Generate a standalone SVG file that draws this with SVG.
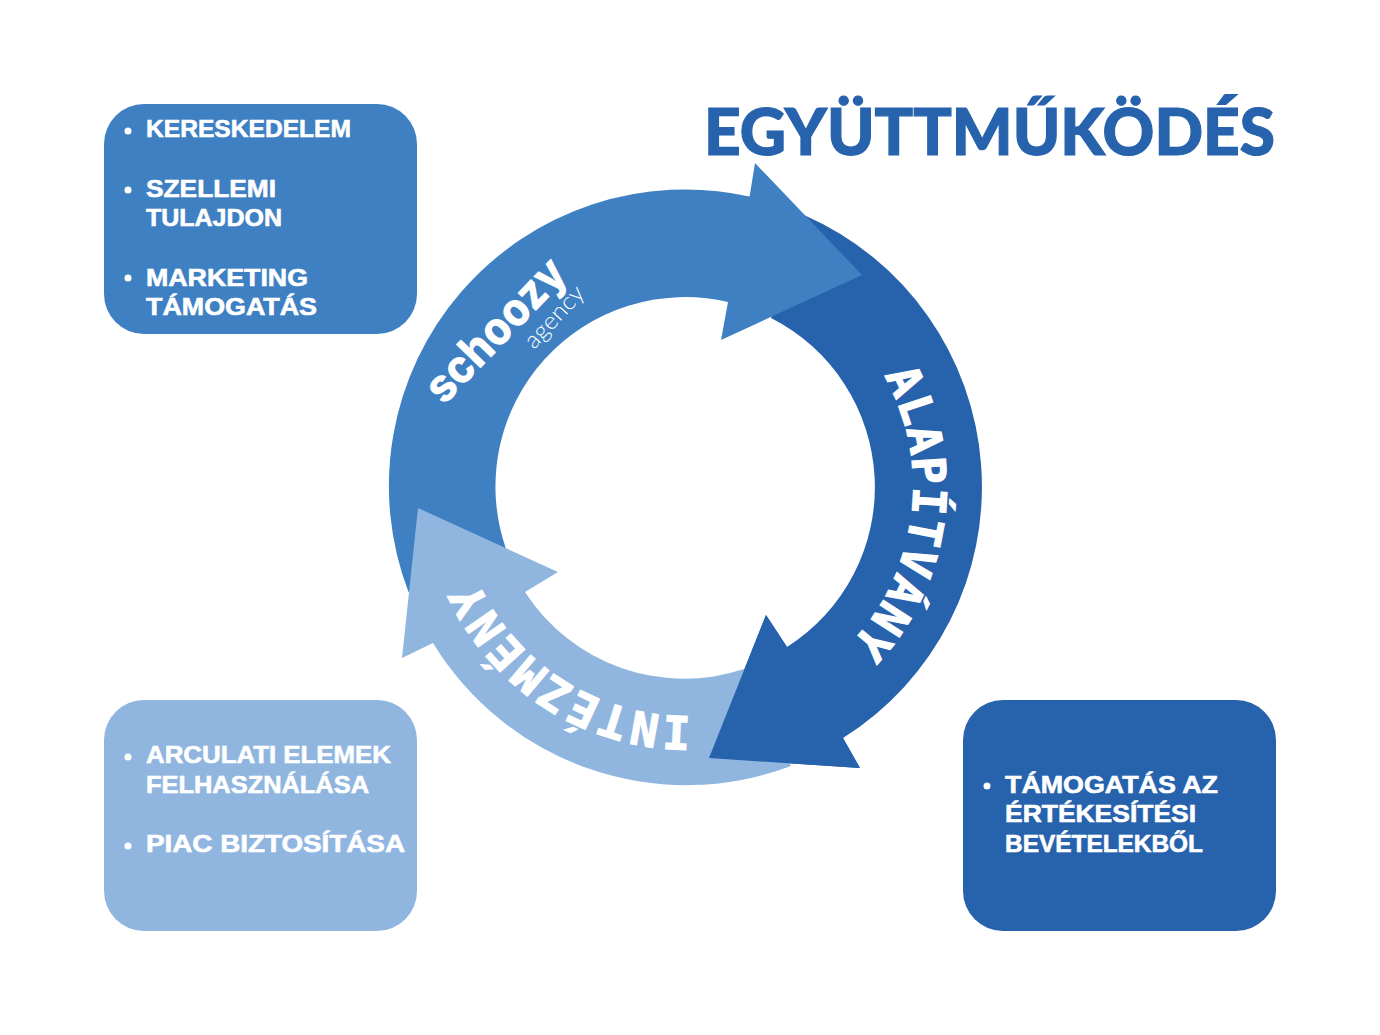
<svg xmlns="http://www.w3.org/2000/svg" width="1380" height="1035" viewBox="0 0 1380 1035">
<style>
.b{font-family:"Liberation Sans",Arial,sans-serif;font-weight:700;font-size:24px;fill:#fff;stroke:#fff;stroke-width:.6px}
.m{font-family:"DejaVu Sans Mono",monospace;font-weight:700;font-size:46px;fill:#fff;stroke:#fff;stroke-width:1.2px}
.d{fill:#fff}
</style>
<defs>
<path id="pa" d="M 884 375.5 A 227 227 0 0 1 816 673"/>
<path id="pi" d="M 691 716 A 229 229 0 0 1 461 527"/>
</defs>
<rect width="1380" height="1035" fill="#fff"/>
<g id="connectors">
<path id="arrow-alapitvany" fill="#2762AD" d="M805 215.5A296.5 296.5 0 0 1 843 738L860 768L709 758L766 615L787 647A189.5 189.5 0 0 0 771 318Z"/>
<path id="arrow-schoozy" fill="#3F80C3" d="M408.5 592A296.5 296.5 0 0 1 749.6 196.5L755 163L862 275L721 340L728 302A189.5 189.5 0 0 0 505.7 548Z"/>
<path id="arrow-intezmeny" fill="#90B6E0" d="M791 766A296.5 296.5 0 0 1 433 643L402 658L418 508L558 572L525 592A189.5 189.5 0 0 0 744 669Z"/>
<path id="arrow-alapitvany-head" fill="#2762AD" d="M843 738L860 768L709 758L766 615L787 647Z"/>
</g>
<g id="title"><text x="704" y="155" textLength="571" lengthAdjust="spacingAndGlyphs" font-family="Lato,sans-serif" font-weight="900" font-size="65" fill="#2762AD" stroke="#2762AD" stroke-width="1.2">EGYÜTTMŰKÖDÉS</text></g>
<g id="box-kereskedelem">
<rect x="104" y="104" width="313" height="230" rx="40" fill="#3F80C3"/>
<circle class="d" cx="128" cy="131" r="3.5"/><circle class="d" cx="128" cy="190" r="3.5"/><circle class="d" cx="128" cy="278" r="3.5"/>
<text class="b" x="146" y="137" textLength="205" lengthAdjust="spacingAndGlyphs">KERESKEDELEM</text>
<text class="b" x="146" y="197" textLength="130" lengthAdjust="spacingAndGlyphs">SZELLEMI</text>
<text class="b" x="146" y="226" textLength="136" lengthAdjust="spacingAndGlyphs">TULAJDON</text>
<text class="b" x="146" y="286" textLength="162" lengthAdjust="spacingAndGlyphs">MARKETING</text>
<text class="b" x="146" y="315" textLength="171" lengthAdjust="spacingAndGlyphs">TÁMOGATÁS</text>
</g>
<g id="box-arculat">
<rect x="104" y="700" width="313" height="231" rx="40" fill="#90B6E0"/>
<circle class="d" cx="128" cy="757" r="3.5"/><circle class="d" cx="128" cy="846" r="3.5"/>
<text class="b" x="146" y="763" textLength="245" lengthAdjust="spacingAndGlyphs">ARCULATI ELEMEK</text>
<text class="b" x="146" y="793" textLength="223" lengthAdjust="spacingAndGlyphs">FELHASZNÁLÁSA</text>
<text class="b" x="146" y="852" textLength="259" lengthAdjust="spacingAndGlyphs">PIAC BIZTOSÍTÁSA</text>
</g>
<g id="box-tamogatas">
<rect x="963" y="700" width="313" height="231" rx="40" fill="#2762AD"/>
<circle class="d" cx="987" cy="786" r="3.5"/>
<text class="b" x="1005" y="793" textLength="213" lengthAdjust="spacingAndGlyphs">TÁMOGATÁS AZ</text>
<text class="b" x="1005" y="822" textLength="191" lengthAdjust="spacingAndGlyphs">ÉRTÉKESÍTÉSI</text>
<text class="b" x="1005" y="852" textLength="198" lengthAdjust="spacingAndGlyphs">BEVÉTELEKBŐL</text>
</g>
<g id="label-alapitvany"><text class="m" letter-spacing="1.3"><textPath href="#pa">ALAPÍTVÁNY</textPath></text></g>
<g id="label-intezmeny"><text class="m" letter-spacing="2.3"><textPath href="#pi">INTÉZMÉNY</textPath></text></g>
<g id="logo-schoozy">
<text transform="translate(444 406) rotate(-46)" font-family="Inter,sans-serif" font-weight="800" font-size="47" textLength="181" lengthAdjust="spacingAndGlyphs" fill="#fff">schoozy</text>
<text transform="translate(534 350) rotate(-47)" font-family="Lato,sans-serif" font-weight="300" font-size="24" textLength="76" lengthAdjust="spacingAndGlyphs" fill="#fff">agency</text>
</g>
</svg>
